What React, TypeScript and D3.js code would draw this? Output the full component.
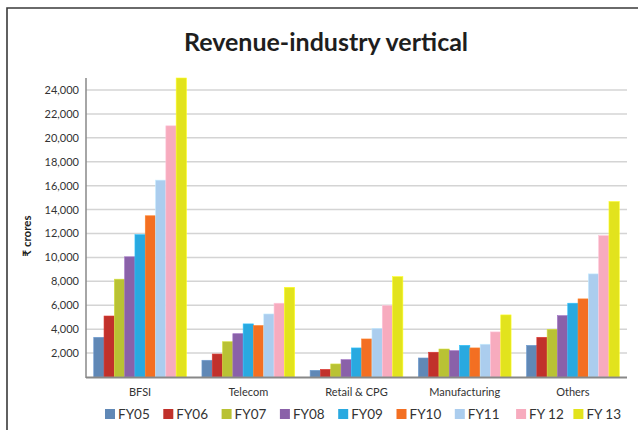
import React from "react";
import * as d3 from "d3";

const categories = ["BFSI", "Telecom", "Retail & CPG", "Manufacturing", "Others"];
const seriesNames = ["FY05", "FY06", "FY07", "FY08", "FY09", "FY10", "FY11", "FY 12", "FY 13"];
const seriesColors = [
  "#6088b6",
  "#c1312b",
  "#b9c234",
  "#8a61a9",
  "#29a9e0",
  "#f36f22",
  "#abcdee",
  "#f7abbe",
  "#e2e31d",
];

// values per series, one per category (₹ crores)
const fy05 = [3320, 1400, 560, 1590, 2650];
const fy06 = [5100, 1920, 640, 2070, 3320];
const fy07 = [8180, 2950, 1090, 2340, 3990];
const fy08 = [10050, 3620, 1450, 2200, 5130];
const fy09 = [11900, 4440, 2430, 2650, 6170];
const fy10 = [13480, 4300, 3180, 2430, 6530];
const fy11 = [16460, 5270, 4070, 2740, 8620];
const fy12 = [21000, 6170, 5970, 3770, 11820];
const fy13 = [25000, 7500, 8390, 5190, 14670];
const seriesValues = [fy05, fy06, fy07, fy08, fy09, fy10, fy11, fy12, fy13];

const yTicks = [2000, 4000, 6000, 8000, 10000, 12000, 14000, 16000, 18000, 20000, 22000, 24000];

const W = 638;
const H = 430;
const left = 86;
const right = 627;
const top = 78;
const bottom = 377;
const font = "Lato, 'Open Sans', sans-serif";

export default function App() {
  const x = d3.scaleBand<string>().domain(categories).range([left, right]).paddingInner(0).paddingOuter(0);
  // 9 bars per group, gap of 1.5 bar widths between groups
  const groupWidth = x.bandwidth() * (9 / 10.5);
  const xInner = d3
    .scaleBand<number>()
    .domain(d3.range(seriesNames.length))
    .range([0, groupWidth])
    .padding(0);
  const y = d3.scaleLinear().domain([0, 25000]).range([bottom, top]);
  const fmt = d3.format(",");

  return (
    <svg
      width={W}
      height={H}
      style={{ position: "absolute", left: 0, top: 0, background: "#fff" }}
      fontFamily={font}
    >
      {/* frame */}
      <path d={`M7,${H} L7,8 L${W},8`} fill="none" stroke="#3a3a3a" strokeWidth={1.6} />

      <text x={326} y={51} textAnchor="middle" fontSize={25} fontWeight={700} fill="#1e1e1e">
        Revenue-industry vertical
      </text>

      {/* gridlines */}
      {yTicks.map((t) => (
        <line key={t} x1={left} x2={right} y1={y(t)} y2={y(t)} stroke="#d4d4d4" strokeWidth={1.5} />
      ))}

      {/* y tick labels */}
      {yTicks.map((t) => (
        <text key={"l" + t} x={79} y={y(t) + 4} textAnchor="end" fontSize={11} fill="#333">
          {fmt(t)}
        </text>
      ))}

      <text
        transform={`translate(31,${236}) rotate(-90)`}
        textAnchor="middle"
        fontSize={11.5}
        fontWeight={700}
        fill="#222"
      >
        ₹ crores
      </text>

      {/* bars */}
      {categories.map((c, ci) => (
        <g key={c} transform={`translate(${(x(c) as number) + (x.bandwidth() - groupWidth) / 2},0)`}>
          {seriesValues.map((vals, si) => (
            <rect
              key={si}
              x={xInner(si)}
              y={y(vals[ci])}
              width={xInner.bandwidth()}
              height={bottom - y(vals[ci])}
              fill={seriesColors[si]}
              stroke={d3.color(seriesColors[si])!.brighter(0.4).formatHex()}
              strokeWidth={0.6}
            />
          ))}
        </g>
      ))}

      {/* axes */}
      <line x1={left} x2={left} y1={top} y2={bottom + 1} stroke="#888" strokeWidth={1.5} />
      <line x1={left} x2={right} y1={bottom + 0.5} y2={bottom + 0.5} stroke="#888" strokeWidth={1.8} />

      {categories.map((c) => (
        <text
          key={"c" + c}
          x={(x(c) as number) + x.bandwidth() / 2}
          y={396}
          textAnchor="middle"
          fontSize={11}
          fill="#333"
        >
          {c}
        </text>
      ))}

      {/* legend */}
      {seriesNames.map((s, i) => {
        const lx = 105 + i * 58.3 + (i >= 8 ? 2 : i >= 7 ? 3 : 0);
        return (
          <g key={s}>
            <rect x={lx} y={409} width={10} height={10} fill={seriesColors[i]} />
            <text x={lx + 13} y={418.5} fontSize={13.5} fill="#333">
              {s}
            </text>
          </g>
        );
      })}
    </svg>
  );
}
